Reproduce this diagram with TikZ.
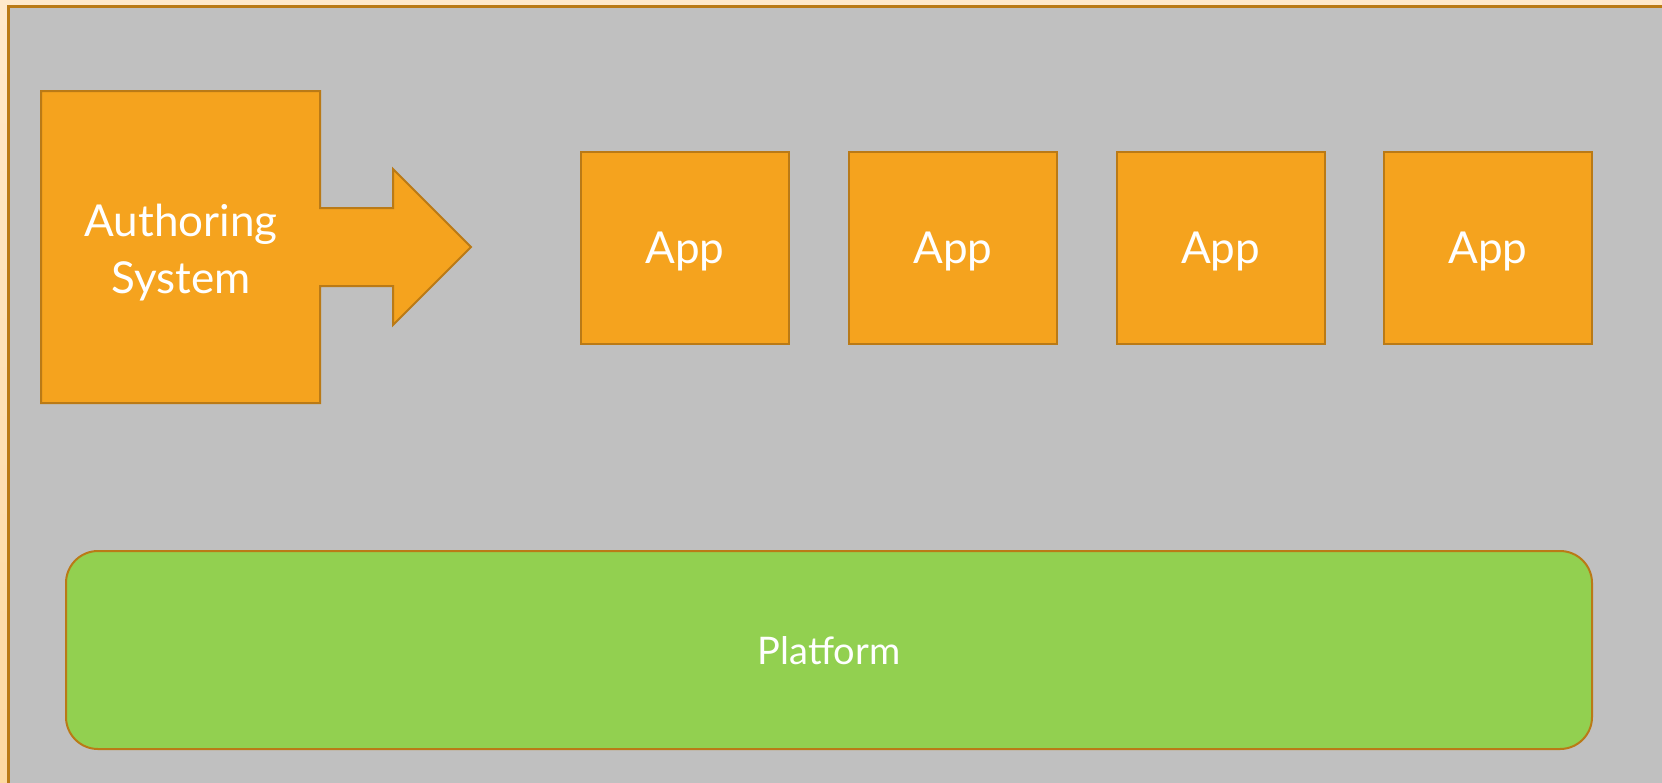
\documentclass[tikz,border=0pt]{standalone}
\usepackage{fontspec}
\setmainfont{Lato}
\definecolor{peachtop}{HTML}{FFE9CB}
\definecolor{peachbot}{HTML}{FDD9A2}
\definecolor{panel}{HTML}{C0C0C0}
\definecolor{orfill}{HTML}{F5A31E}
\definecolor{orline}{HTML}{BA7A16}
\definecolor{grfill}{HTML}{92D050}
\tikzset{
  appbox/.style={draw=orline, line width=2pt, fill=orfill, minimum width=208pt,
    minimum height=192pt, inner sep=0pt, text depth=0pt, text=white,
    font=\fontsize{44}{52}\selectfont},
  label/.style={text=white, align=center, inner sep=0pt},
}
\begin{document}
\begin{tikzpicture}[x=1pt,y=-1pt]
  \useasboundingbox (0,0) rectangle (1662,782);
  \clip (0,0) rectangle (1662,782);
  % page background and grey panel
  \shade[top color=peachtop, bottom color=peachbot] (0,0) rectangle (1662,782);
  \draw[orline, line width=3pt, fill=panel] (8,6) rectangle (1680,800);
  % authoring system block with its arrow
  \draw[orline, line width=2pt, fill=orfill, line join=miter]
    (41,91) -- (320,91) -- (320,208) -- (393,208) -- (393,169) -- (471,247)
    -- (393,325) -- (393,286) -- (320,286) -- (320,403) -- (41,403) -- cycle;
  \node[label, font=\fontsize{44}{57}\selectfont] (auth) at (181,253) {Authoring\\System};
  % apps
  \node[appbox] (app1) at (685,247.5) {App};
  \node[appbox] (app2) at (953,247.5) {App};
  \node[appbox] (app3) at (1220.5,247.5) {App};
  \node[appbox] (app4) at (1488,247.5) {App};
  % platform
  \node[draw=orline, line width=2pt, fill=grfill, rounded corners=32pt,
    minimum width=1526pt, minimum height=198pt, inner sep=0pt, text depth=0pt,
    text=white, font=\fontsize{38}{46}\selectfont] (platform) at (829,650) {Platform};
\end{tikzpicture}
\end{document}
